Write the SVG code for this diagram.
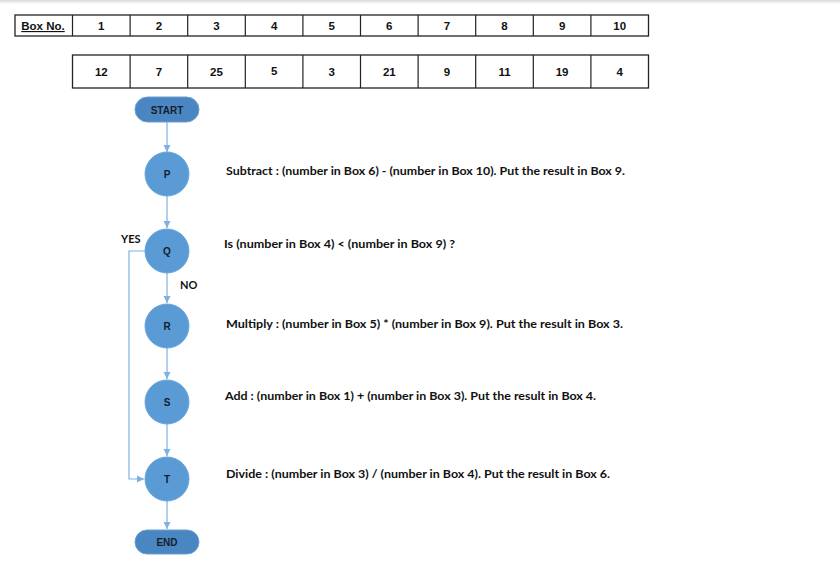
<svg xmlns="http://www.w3.org/2000/svg" width="840" height="570" viewBox="0 0 840 570">
<defs>
<linearGradient id="topShade" x1="0" y1="0" x2="0" y2="1">
<stop offset="0" stop-color="#d9d9d9"/>
<stop offset="1" stop-color="#ffffff"/>
</linearGradient>
<marker id="arr" markerWidth="8" markerHeight="8" refX="7" refY="4" orient="auto" markerUnits="userSpaceOnUse">
<path d="M0,0.5 L7,4 L0,7.5 z" fill="#7eb1df"/>
</marker>
</defs>
<style>
.cell{fill:#ffffff;stroke:#222222;stroke-width:1.3}
.t{font-family:"Liberation Sans",Arial,sans-serif;font-weight:bold;font-size:11.5px;fill:#111111;text-anchor:middle}
.desc{font-family:Lato,"Liberation Sans",sans-serif;font-weight:bold;font-size:11.5px;fill:#111111}
.circ{fill:#5b9bd5;stroke:#6aa6dc;stroke-width:1}
.term{fill:#4a86c2;stroke:#6d9fd0;stroke-width:1}
.nl{font-family:"Liberation Sans",Arial,sans-serif;font-weight:bold;font-size:10px;fill:#14202e;text-anchor:middle}
.lab{font-family:Lato,"Liberation Sans",sans-serif;font-weight:bold;font-size:11px;fill:#111111}
.con{fill:none;stroke:#7eb1df;stroke-width:1.2}
</style>
<rect x="0" y="0" width="840" height="4" fill="url(#topShade)"/>
<g id="table">
<rect class="cell" x="15" y="15" width="633.5" height="21"/>
<path d="M72.5,15V36M130.1,15V36M187.7,15V36M245.3,15V36M302.9,15V36M360.5,15V36M418.1,15V36M475.7,15V36M533.3,15V36M590.9,15V36" stroke="#222" stroke-width="1.2"/>
<rect class="cell" x="72.5" y="55" width="576" height="33"/>
<path d="M130.1,55V88M187.7,55V88M245.3,55V88M302.9,55V88M360.5,55V88M418.1,55V88M475.7,55V88M533.3,55V88M590.9,55V88" stroke="#222" stroke-width="1.2"/>
<text class="t" x="43" y="30" text-decoration="underline">Box No.</text>
<text class="t" x="101.3" y="30">1</text>
<text class="t" x="158.9" y="30">2</text>
<text class="t" x="216.5" y="30">3</text>
<text class="t" x="274.1" y="30">4</text>
<text class="t" x="331.7" y="30">5</text>
<text class="t" x="389.3" y="30">6</text>
<text class="t" x="446.9" y="30">7</text>
<text class="t" x="504.5" y="30">8</text>
<text class="t" x="562.1" y="30">9</text>
<text class="t" x="619.7" y="30">10</text>
<text class="t" x="101.3" y="76">12</text>
<text class="t" x="158.9" y="76">7</text>
<text class="t" x="216.5" y="76">25</text>
<text class="t" x="274.1" y="75">5</text>
<text class="t" x="331.7" y="76">3</text>
<text class="t" x="389.3" y="76">21</text>
<text class="t" x="446.9" y="76">9</text>
<text class="t" x="504.5" y="76">11</text>
<text class="t" x="562.1" y="76">19</text>
<text class="t" x="619.7" y="76">4</text>
</g>
<g id="connectors">
<line class="con" x1="167" y1="122" x2="167" y2="152" marker-end="url(#arr)"/>
<line class="con" x1="167" y1="196" x2="167" y2="228" marker-end="url(#arr)"/>
<line class="con" x1="167" y1="273" x2="167" y2="303" marker-end="url(#arr)"/>
<line class="con" x1="167" y1="348" x2="167" y2="379" marker-end="url(#arr)"/>
<line class="con" x1="167" y1="424" x2="167" y2="456" marker-end="url(#arr)"/>
<line class="con" x1="167" y1="501" x2="167" y2="529" marker-end="url(#arr)"/>
<polyline class="con" points="145,251 129,251 129,479 144,479" marker-end="url(#arr)"/>
<text class="lab" x="121" y="243">YES</text>
<text class="lab" x="180" y="289">NO</text>
</g>
<g id="start">
<rect class="term" x="135" y="97" width="64" height="25" rx="12.5"/>
<text class="nl" x="167" y="113.5">START</text>
</g>
<g id="P">
<circle class="circ" cx="167" cy="174" r="22"/>
<text class="nl" x="167" y="178">P</text>
</g>
<g id="Q">
<circle class="circ" cx="167" cy="251" r="22"/>
<text class="nl" x="167" y="255">Q</text>
</g>
<g id="R">
<circle class="circ" cx="167" cy="326" r="22"/>
<text class="nl" x="167" y="330">R</text>
</g>
<g id="S">
<circle class="circ" cx="167" cy="402" r="22"/>
<text class="nl" x="167" y="406">S</text>
</g>
<g id="T">
<circle class="circ" cx="167" cy="479" r="22"/>
<text class="nl" x="167" y="483">T</text>
</g>
<g id="end">
<rect class="term" x="135" y="530" width="64" height="24" rx="12"/>
<text class="nl" x="167" y="546">END</text>
</g>
<g id="descriptions">
<text class="desc" x="226" y="175" textLength="399" lengthAdjust="spacingAndGlyphs">Subtract : (number in Box 6) - (number in Box 10). Put the result in Box 9.</text>
<text class="desc" x="224" y="248" textLength="231" lengthAdjust="spacingAndGlyphs">Is (number in Box 4) &lt; (number in Box 9) ?</text>
<text class="desc" x="226" y="328" textLength="397" lengthAdjust="spacingAndGlyphs">Multiply : (number in Box 5) * (number in Box 9). Put the result in Box 3.</text>
<text class="desc" x="225" y="400" textLength="371" lengthAdjust="spacingAndGlyphs">Add : (number in Box 1) + (number in Box 3). Put the result in Box 4.</text>
<text class="desc" x="226" y="478" textLength="384" lengthAdjust="spacingAndGlyphs">Divide : (number in Box 3) / (number in Box 4). Put the result in Box 6.</text>
</g>
</svg>
